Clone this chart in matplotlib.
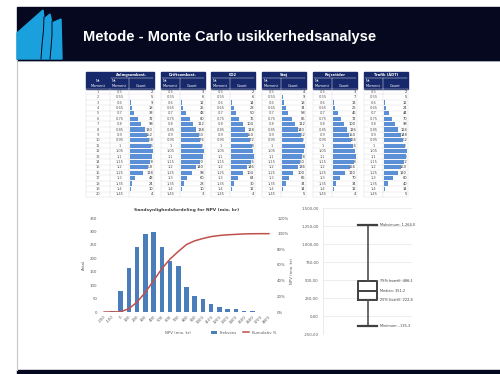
import matplotlib
matplotlib.use("Agg")
import matplotlib.pyplot as plt
from matplotlib.patches import Rectangle, Polygon
from matplotlib.ticker import FuncFormatter

# Slide text
slide_title = "Metode - Monte Carlo usikkerhedsanalyse"

# Input distributions, one table per parameter
table_titles = ["Anlægsomkost.", "Driftsomkost.", "CO2", "Støj", "Rejsetider", "Trafik (ÅDT)"]
row_numbers = [str(i) for i in range(1, 21)]
factor_labels = ["0,5", "0,55", "0,6", "0,65", "0,7", "0,75", "0,8", "0,85", "0,9", "0,95",
                 "1", "1,05", "1,1", "1,15", "1,2", "1,25", "1,3", "1,35", "1,4", "1,45"]
counts_anlaeg = [2, 5, 9, 18, 38, 72, 98, 130, 152, 168, 186, 198, 190, 178, 158, 118, 48, 24, 10, 4]
counts_drift = [3, 6, 12, 25, 48, 80, 112, 138, 160, 176, 190, 205, 196, 170, 140, 98, 60, 28, 10, 3]
counts_co2 = [2, 6, 14, 28, 50, 76, 104, 128, 150, 172, 188, 196, 200, 176, 146, 104, 64, 30, 12, 4]
counts_stoej = [4, 9, 18, 34, 58, 86, 112, 140, 162, 180, 196, 192, 178, 160, 136, 100, 66, 34, 14, 5]
counts_rejse = [3, 7, 13, 26, 46, 72, 100, 126, 150, 166, 184, 198, 204, 188, 156, 110, 70, 34, 12, 4]
counts_trafik = [2, 5, 12, 24, 44, 70, 98, 124, 148, 162, 180, 194, 188, 172, 150, 120, 80, 40, 14, 5]

# NPV result distribution
npv_bins = ["-200", "-100", "0", "100", "200", "300", "400", "500", "600", "700", "800",
            "900", "1000", "1100", "1200", "1300", "1400", "1500", "1600", "1700", "1800"]
npv_freq = [0, 5, 78, 165, 243, 290, 297, 243, 190, 173, 93, 58, 47, 28, 17, 11, 11, 4, 2, 0, 0]

# Box plot summary of NPV
npv_stats = {"whishi": 1264.0, "q3": 486.1, "med": 351.2, "q1": 222.4, "whislo": -135.3}
box_labels = [("whishi", "Maksimum: "), ("q3", "75% kvartil: "), ("med", "Median: "),
              ("q1", "25% kvartil: "), ("whislo", "Minimum: ")]

W, H = 500, 374
NAVY = "#05081f"
HEAD = "#18296b"
BAR_BLUE = "#5b8fd6"
TXT = "#595959"


def px_rect(x0, y0, x1, y1):
    return [x0 / W, 1 - y1 / H, (x1 - x0) / W, (y1 - y0) / H]


def dk(v, dec=2):
    s = f"{v:,.{dec}f}"
    return s.replace(",", "X").replace(".", ",").replace("X", ".")


fig = plt.figure(figsize=(W / 100, H / 100), dpi=100)
bg = fig.add_axes([0, 0, 1, 1])
bg.set_xlim(0, W)
bg.set_ylim(H, 0)
bg.axis("off")

# slide frame, header and footer
bg.add_patch(Rectangle((17, 7), W - 17, 53, color=NAVY, zorder=1))
bg.add_patch(Rectangle((17, 370), W - 17, 4, color=NAVY, zorder=1))
bg.plot([17, 17], [60, 370], color="#c8c8c8", lw=0.8, zorder=1)
bg.plot([17, W], [60.5, 60.5], color="#9aa0b0", lw=0.6, zorder=1)

# logo
logo = Polygon([(17, 33), (43, 10), (44, 19), (50, 14), (52, 23), (61, 19), (62, 59), (17, 59)],
               closed=True, color="#1aa0dc", zorder=2)
bg.add_patch(logo)
bg.plot([44, 43.5, 42, 41], [17, 30, 45, 59], color=NAVY, lw=0.7, zorder=3)
bg.plot([52, 52, 51, 50], [21, 35, 48, 59], color=NAVY, lw=0.7, zorder=3)

bg.text(83, 36.5, slide_title, color="white", fontsize=10.5, fontweight="bold",
        family="Liberation Sans", va="center", ha="left", zorder=3)

# input tables
table_counts = [counts_anlaeg, counts_drift, counts_co2, counts_stoej, counts_rejse, counts_trafik]
table_x = [110, 161, 211, 262, 313, 364]
val_w, cnt_w = 19, 25
top, head_bot, body_bot = 72, 89, 197
row_h = (body_bot - head_bot) / len(row_numbers)
fs = 2.6

# row number column for the first table
bg.add_patch(Rectangle((86, top), 24, head_bot - top, color=HEAD, zorder=2))
bg.text(98, 80.5, "Nr.", color="white", fontsize=fs, ha="center", va="center", zorder=3)
bg.text(98, 85.5, "Moment", color="white", fontsize=fs, ha="center", va="center", zorder=3)
for i, n in enumerate(row_numbers):
    yc = head_bot + (i + 0.5) * row_h
    bg.text(98, yc, n, color=TXT, fontsize=fs, ha="center", va="center", zorder=3)

for k, (title, counts, x0) in enumerate(zip(table_titles, table_counts, table_x)):
    x1 = x0 + val_w + cnt_w
    bg.add_patch(Rectangle((x0, top), x1 - x0, head_bot - top, color=HEAD, zorder=2))
    bg.plot([x0 + 1, x1 - 1], [78, 78], color="white", lw=0.3, zorder=3)
    bg.plot([x0 + val_w, x0 + val_w], [78, head_bot], color="white", lw=0.3, zorder=3)
    bg.text((x0 + x1) / 2, 75, title, color="white", fontsize=fs, fontweight="bold",
            ha="center", va="center", zorder=3)
    bg.text(x0 + 4, 81, "Nr.", color="white", fontsize=fs, ha="center", va="center", zorder=3)
    bg.text(x0 + val_w / 2, 86, "Moment", color="white", fontsize=fs, ha="center", va="center", zorder=3)
    bg.text(x0 + val_w + cnt_w / 2, 86, "Count", color="white", fontsize=fs, ha="center", va="center", zorder=3)

    # body grid
    left = 86 if k == 0 else x0
    for i in range(len(row_numbers) + 1):
        y = head_bot + i * row_h
        bg.plot([left, x1], [y, y], color="#d9d9d9", lw=0.3, zorder=2)
    for xv in ([86, x0] if k == 0 else [x0]) + [x0 + val_w, x1]:
        bg.plot([xv, xv], [head_bot, body_bot], color="#d9d9d9", lw=0.3, zorder=2)

    for i, (lab, c) in enumerate(zip(factor_labels, counts)):
        yc = head_bot + (i + 0.5) * row_h
        bg.text(x0 + val_w / 2, yc, lab, color=TXT, fontsize=fs, ha="center", va="center", zorder=3)
        bg.text(x1 - 1, yc, str(c), color="#303030", fontsize=fs, ha="right", va="center", zorder=5)

    # data bars in the count column
    bax = fig.add_axes(px_rect(x0 + val_w + 0.5, head_bot, x1, body_bot))
    bax.barh(range(len(counts)), counts, height=0.8, color=BAR_BLUE, zorder=4)
    bax.set_ylim(len(counts) - 0.5, -0.5)
    bax.set_xlim(0, max(counts) * 1.06)
    bax.axis("off")
    bax.patch.set_alpha(0)

# NPV histogram with cumulative share
hax = fig.add_axes(px_rect(100, 218, 273, 312))
xs = list(range(len(npv_bins)))
hax.bar(xs, npv_freq, width=0.55, color="#4a7ebb", label="Frekvens", zorder=2)
hax.set_xlim(-0.5, len(npv_bins) - 0.5)
hax.set_ylim(0, 350)
hax.set_yticks(range(0, 351, 50))
hax.set_xticks(xs)
hax.set_xticklabels(npv_bins, rotation=45, ha="right", rotation_mode="anchor")
hax.tick_params(length=0, labelsize=2.8, colors=TXT, pad=2)
for s in hax.spines.values():
    s.set_visible(False)
hax.axhline(0, color="#d0d0d0", lw=0.5)
hax.set_ylabel("Antal", fontsize=2.8, color=TXT, labelpad=3)
hax.set_xlabel("NPV (mio. kr)", fontsize=2.8, color=TXT, labelpad=2)
hax.xaxis.set_label_coords(0.45, -0.2)
hax.set_title("Sandsynlighedsfordeling for NPV (mio. kr)", fontsize=3.2,
              fontweight="bold", color="#404040", pad=5)

total = sum(npv_freq)
cum = []
run = 0
for f in npv_freq:
    run += f
    cum.append(100 * run / total)
cum_prev = [0] + cum[:-1]
cax = hax.twinx()
cax.plot(xs, cum_prev, color="#c0504d", lw=1.1, label="Kumulativ %", zorder=3)
cax.set_ylim(0, 120)
cax.set_yticks(range(0, 121, 20))
cax.yaxis.set_major_formatter(FuncFormatter(lambda v, p: f"{v:.0f}%"))
cax.tick_params(length=0, labelsize=2.8, colors=TXT, pad=3)
for s in cax.spines.values():
    s.set_visible(False)

h1, l1 = hax.get_legend_handles_labels()
h2, l2 = cax.get_legend_handles_labels()
hax.legend(h1 + h2, l1 + l2, loc="upper left", bbox_to_anchor=(0.62, -0.16), ncol=2,
           fontsize=2.8, frameon=False, handlelength=1.5, columnspacing=1.5,
           labelcolor=TXT)

# NPV box plot
bx = fig.add_axes(px_rect(323, 208, 412, 334))
stats = dict(npv_stats)
stats["fliers"] = []
bx.bxp([stats], positions=[0.5], widths=0.21, capwidths=[0.21], showfliers=False,
       boxprops=dict(color="#404040", lw=1.4),
       medianprops=dict(color="#404040", lw=1.4),
       whiskerprops=dict(color="#505050", lw=1.2),
       capprops=dict(color="#404040", lw=1.6))
bx.set_xlim(0, 1)
bx.set_ylim(-250, 1500)
bx.set_yticks(range(-250, 1501, 250))
bx.yaxis.set_major_formatter(FuncFormatter(lambda v, p: dk(v)))
bx.set_xticks([])
bx.grid(axis="y", color="#e4e4e4", lw=0.5)
bx.set_axisbelow(True)
for name, s in bx.spines.items():
    s.set_visible(name == "left")
bx.spines["left"].set_color("#e0e0e0")
bx.spines["left"].set_linewidth(0.5)
bx.tick_params(length=0, labelsize=2.8, colors=TXT, pad=3)
bx.set_ylabel("NPV (mio. kr)", fontsize=2.8, color=TXT, labelpad=5)
for key, prefix in box_labels:
    bx.text(0.64, npv_stats[key], prefix + dk(npv_stats[key], 1), fontsize=2.5,
            color="#404040", va="center", ha="left")

fig.savefig("out.png", dpi=100)
